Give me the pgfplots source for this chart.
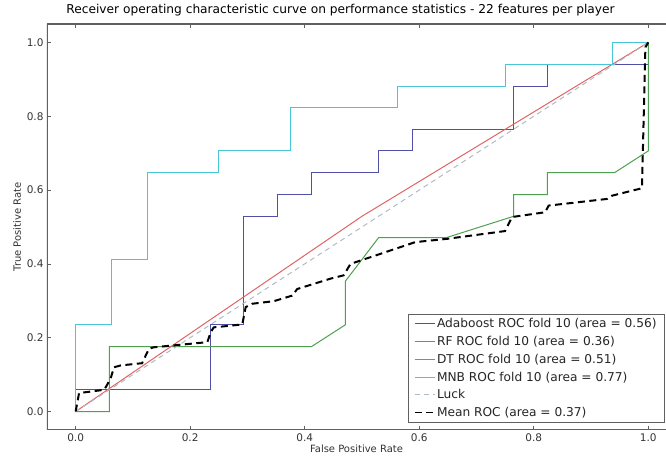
\documentclass[border=0pt]{standalone}
\usepackage{pgfplots}
\pgfplotsset{compat=1.18}
\usepackage{fontspec}
\setmainfont{DejaVu Sans}
\definecolor{cada}{HTML}{5050A8}
\definecolor{crf}{HTML}{4FA04F}
\definecolor{cdt}{HTML}{E06464}
\definecolor{cmnb}{HTML}{48C6D6}
\definecolor{cluck}{HTML}{B0BAC4}
\definecolor{caxis}{HTML}{606060}
\begin{document}
\begin{tikzpicture}
\begin{axis}[
  at={(0pt,0pt)}, anchor=south west,
  scale only axis, width=619pt, height=406pt,
  xmin=-0.05, xmax=1.031, ymin=-0.05, ymax=1.05,
  xtick={0,0.2,0.4,0.6,0.8,1.0}, ytick={0,0.2,0.4,0.6,0.8,1.0},
  xticklabel style={/pgf/number format/.cd, fixed, fixed zerofill, precision=1},
  yticklabel style={/pgf/number format/.cd, fixed, fixed zerofill, precision=1},
  /pgf/number format/assume math mode=true,
  ticklabel style={font=\fontsize{10.5}{12}\selectfont, text=black!80},
  tick align=inside, xtick pos=both, ytick pos=left,
  major tick length=4pt, tick style={caxis, line width=0.8pt},
  axis line style={draw=none},
  title={Receiver operating characteristic curve on performance statistics - 22 features per player},
  title style={font=\fontsize{12.2}{14}\selectfont, yshift=-2pt, xshift=-16pt},
  xlabel={False Positive Rate}, ylabel={True Positive Rate},
  label style={font=\fontsize{10}{12}\selectfont, text=black!80},
  xlabel style={yshift=3pt}, ylabel style={yshift=-1pt},
  legend style={at={(rel axis cs:1,0)}, anchor=south east, xshift=-1pt, yshift=7pt,
    draw=caxis, line width=0.8pt, fill=white, font=\fontsize{12.2}{14}\selectfont,
    row sep=3pt, inner xsep=6pt, inner ysep=2.5pt, text=black!85},
  legend cell align=left,
  legend image code/.code={\draw[#1, line width=1pt] (0pt,0pt) -- (20pt,0pt);},
  clip=true,
]
\draw[caxis, line width=1.2pt] (rel axis cs:0,1) -- (rel axis cs:0,0) -- (rel axis cs:1,0);
\draw[caxis, line width=1.2pt] (rel axis cs:0,1) -- (rel axis cs:1,1);
% Adaboost
\addplot[cada, line width=1pt] coordinates {
(0,0) (0,0.059) (0.235,0.059) (0.235,0.235) (0.294,0.235) (0.294,0.529)
(0.353,0.529) (0.353,0.588) (0.412,0.588) (0.412,0.647) (0.529,0.647)
(0.529,0.706) (0.588,0.706) (0.588,0.765) (0.765,0.765) (0.765,0.882)
(0.824,0.882) (0.824,0.941) (1,0.941) (1,1)};
\addlegendentry{Adaboost ROC fold 10 (area = 0.56)}
% RF
\addplot[crf, line width=1pt] coordinates {
(0,0) (0.059,0) (0.059,0.176) (0.412,0.176) (0.471,0.235) (0.471,0.353)
(0.529,0.471) (0.647,0.471) (0.765,0.529) (0.765,0.588) (0.824,0.588)
(0.824,0.647) (0.941,0.647) (1,0.706) (1,1)};
\addlegendentry{RF ROC fold 10 (area = 0.36)}
% DT
\addplot[cdt, line width=1pt] coordinates {(0,0) (0.5,0.529) (1,1)};
\addlegendentry{DT ROC fold 10 (area = 0.51)}
% MNB
\addplot[cmnb, line width=1pt] coordinates {
(0,0) (0,0.235) (0.0625,0.235) (0.0625,0.412) (0.125,0.412) (0.125,0.647)
(0.25,0.647) (0.25,0.706) (0.375,0.706) (0.375,0.824) (0.5625,0.824)
(0.5625,0.882) (0.75,0.882) (0.75,0.941) (0.9375,0.941) (0.9375,1) (1,1)};
\addlegendentry{MNB ROC fold 10 (area = 0.77)}
% Luck
\addplot[cluck, line width=1pt, dash pattern=on 5pt off 4pt] coordinates {(0,0) (1,1)};
\addlegendentry{Luck}
% Mean
\addplot[black, line width=2pt, dash pattern=on 7pt off 4.5pt] coordinates {
(0,0) (0.006,0.05) (0.05,0.059) (0.061,0.089) (0.067,0.12) (0.079,0.125)
(0.116,0.131) (0.128,0.17) (0.136,0.174) (0.23,0.188) (0.236,0.215)
(0.241,0.228) (0.291,0.236) (0.297,0.283) (0.308,0.292) (0.346,0.299)
(0.378,0.314) (0.387,0.332) (0.445,0.36) (0.468,0.369) (0.48,0.4)
(0.593,0.459) (0.649,0.468) (0.75,0.489) (0.762,0.527) (0.82,0.54)
(0.826,0.558) (0.928,0.576) (0.937,0.585) (0.989,0.605) (0.995,0.987) (1,1)};
\addlegendentry{Mean ROC (area = 0.37)}
\end{axis}
\pgfresetboundingbox
\useasboundingbox (-47pt,-27pt) rectangle (619pt,430pt);
\end{tikzpicture}
\end{document}
